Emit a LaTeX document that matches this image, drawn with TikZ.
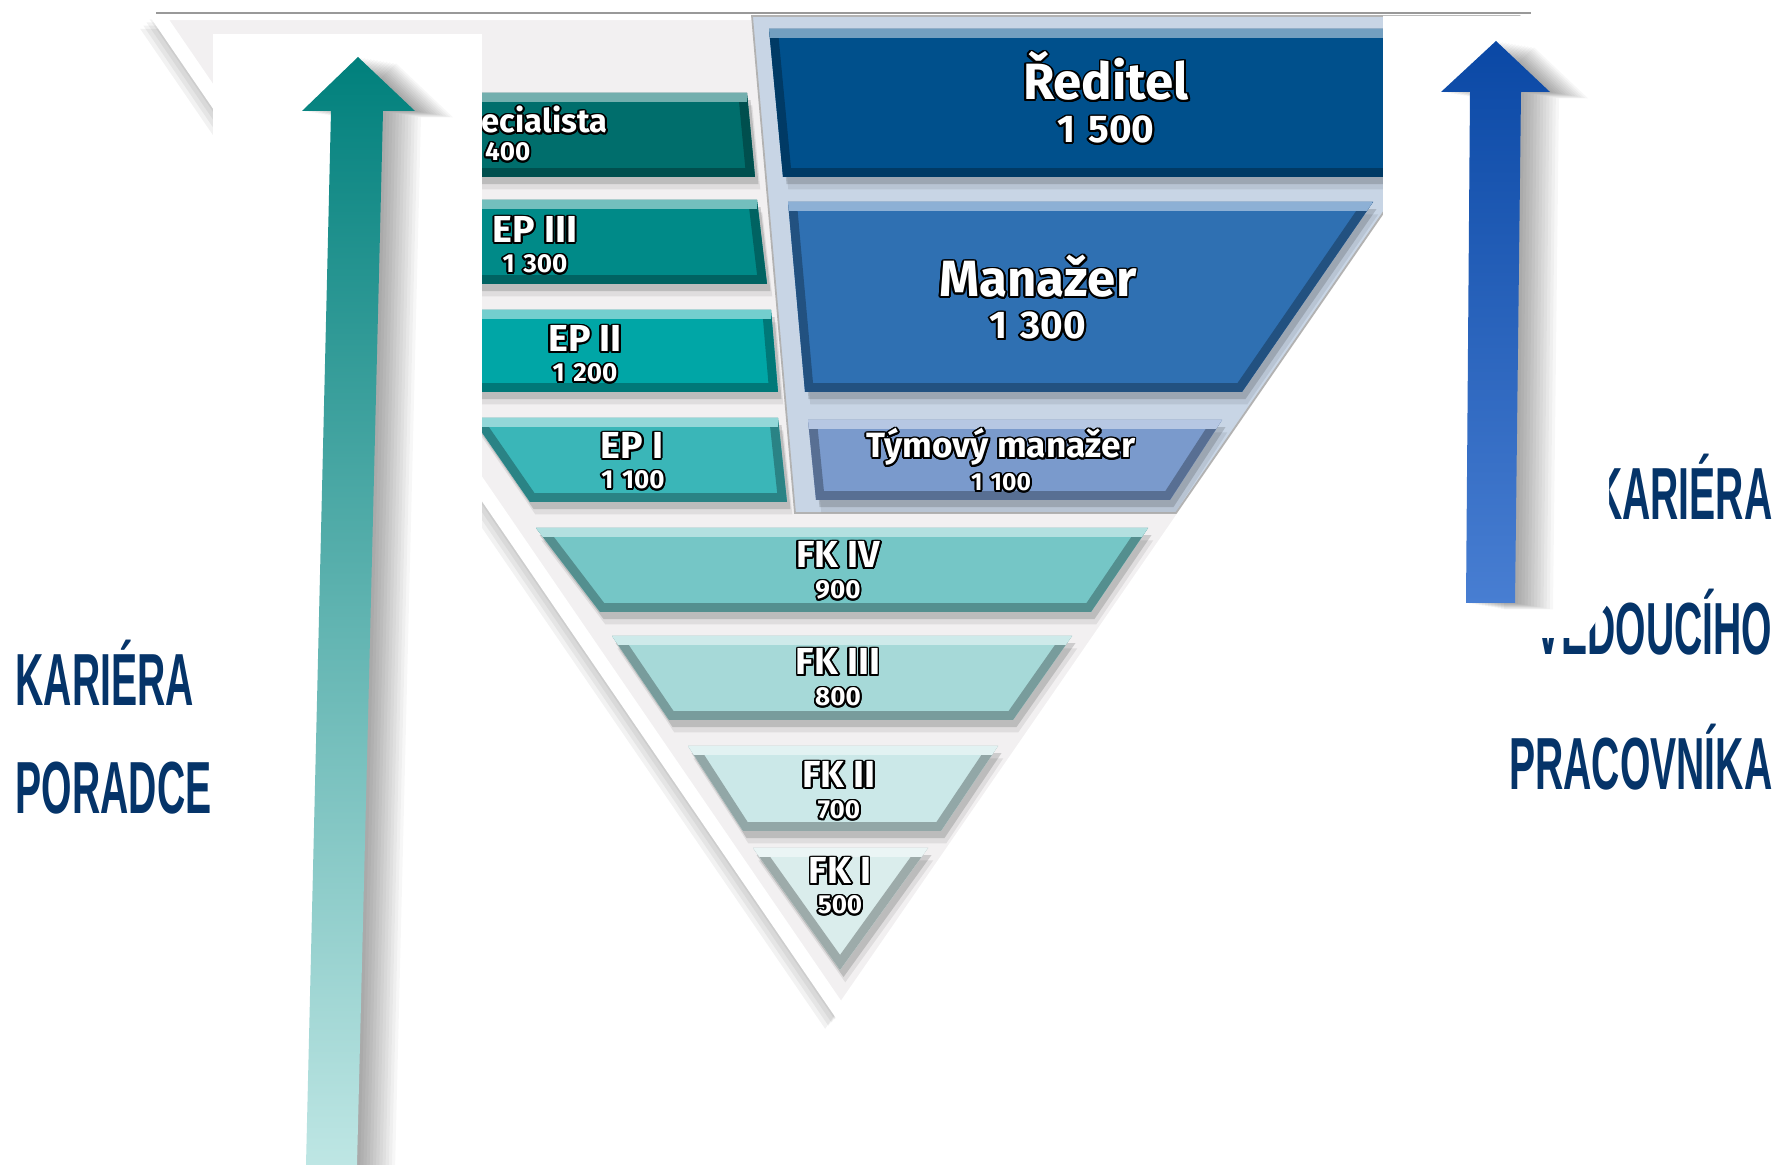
\documentclass[tikz,border=0pt]{standalone}
\usepackage{fontspec}
\usepackage{contour}
\newfontfamily\lblfont{Fira Sans}
\newfontfamily\sidefont{Liberation Sans}[FakeStretch=0.53]
\contourlength{0.55pt}
\definecolor{trifill}{RGB}{242,240,241}
\definecolor{blueback}{RGB}{200,213,229}
\definecolor{navy}{RGB}{5,52,105}
\definecolor{specc}{RGB}{0,110,108}
\definecolor{epthree}{RGB}{0,138,136}
\definecolor{eptwo}{RGB}{0,166,166}
\definecolor{epone}{RGB}{58,182,184}
\definecolor{redc}{RGB}{0,80,140}
\definecolor{manc}{RGB}{47,112,178}
\definecolor{tymc}{RGB}{122,154,204}
\definecolor{fkfour}{RGB}{117,198,198}
\definecolor{fkthree}{RGB}{166,217,216}
\definecolor{fktwo}{RGB}{203,232,232}
\definecolor{fkone}{RGB}{218,237,236}
\definecolor{tealtop}{RGB}{0,128,124}
\definecolor{tealmid}{RGB}{45,170,170}
\definecolor{tealbot}{RGB}{190,230,228}
\definecolor{bluetop}{RGB}{10,72,165}
\definecolor{bluebot}{RGB}{72,126,210}
% one bevelled step: colour, then corners tl tr br bl
\newcommand{\tier}[5]{%
  \fill[black,opacity=.15,xshift=1pt,yshift=-2pt] (#2) -- (#3) -- (#4) -- (#5) -- cycle;
  \fill[black,opacity=.08,xshift=1.5pt,yshift=-3.5pt] (#2) -- (#3) -- (#4) -- (#5) -- cycle;
  \fill[#1] (#2) -- (#3) -- (#4) -- (#5) -- cycle;
  \begin{scope}
    \clip (#2) -- (#3) -- (#4) -- (#5) -- cycle;
    \draw[#1!72!black,line width=5pt] (#2) -- (#3) -- (#4) -- (#5) -- cycle;
    \draw[#1!55!white,line width=5pt] (#2) -- (#3);
  \end{scope}}

\begin{document}
\begin{tikzpicture}[x=0.01cm,y=0.01cm]
	\tikzstyle{every node}+=[inner sep=0pt]
	\tikzstyle{tiername}=[text=white,anchor=base,font=\lblfont\bfseries\fontsize{10.7pt}{12pt}\selectfont]
	\tikzstyle{tiernum}=[text=white,anchor=base,font=\lblfont\bfseries\fontsize{7.4pt}{9pt}\selectfont]
	\tikzstyle{headname}=[text=white,anchor=base,font=\lblfont\bfseries\fontsize{14.5pt}{16pt}\selectfont]
	\tikzstyle{headnum}=[text=white,anchor=base,font=\lblfont\bfseries\fontsize{11pt}{13pt}\selectfont]
	\tikzstyle{sidetext}=[text=navy,font=\sidefont\bfseries\fontsize{21pt}{24pt}\selectfont]
	\useasboundingbox[fill=white] (0,0) rectangle (1778,-1165);
	\foreach \s in {1,...,5}
		\fill[black,opacity=.05,xshift={-\s*0.9pt},yshift={-\s*0.9pt}] (156,-13) -- (1531,-13) -- (841,-1013) -- cycle;
	\filldraw[fill=trifill,draw=white,line width=4pt] (156,-13) -- (1531,-13) -- (841,-1013) -- cycle;
	\draw[black!40,line width=0.7pt] (156,-13) -- (1531,-13);
	\filldraw[fill=blueback,draw=black!30,line width=0.5pt] (752,-16) -- (1519,-16) -- (1176,-513) -- (795,-513) -- cycle;
	\tier{specc}{440,-93}{747,-93}{755,-177}{440,-177}
	\tier{epthree}{440,-200}{757,-200}{767,-284}{440,-284}
	\tier{eptwo}{440,-310}{771,-310}{778,-392}{440,-392}
	\tier{epone}{472,-418}{778,-418}{787,-502}{530,-502}
	\tier{redc}{769,-29}{1400,-29}{1400,-177}{783,-177}
	\tier{manc}{788,-202}{1373,-202}{1242,-392}{805,-392}
	\tier{tymc}{808,-420}{1222,-420}{1170,-500}{816,-500}
	\tier{fkfour}{536,-528}{1148,-528}{1091,-612}{600,-612}
	\tier{fkthree}{612,-636}{1072,-636}{1013,-720}{669,-720}
	\tier{fktwo}{688,-746}{998,-746}{941,-831}{743,-831}
	\tier{fkone}{753,-848}{928,-848}{840,-970}{840,-970}
	\node[text=white,anchor=base east,font=\lblfont\bfseries\fontsize{9.3pt}{11pt}\selectfont] (spec) at (608,-133) {\contour{black}{Specialista}};
	\node[tiernum,anchor=base east] (specnum) at (531,-161) {\contour{black}{1\,\,400}};
	\node[tiername] (epiii) at (535,-243) {\contour{black}{EP III}};
	\node[tiernum] (epiiinum) at (535,-273) {\contour{black}{1\,\,300}};
	\node[tiername] (epii) at (585,-352) {\contour{black}{EP II}};
	\node[tiernum] (epiinum) at (585,-382) {\contour{black}{1\,\,200}};
	\node[tiername] (epi) at (632,-459) {\contour{black}{EP I}};
	\node[tiernum] (epinum) at (633,-489) {\contour{black}{1\,\,100}};
	\node[headname] (reditel) at (1106,-100) {\contour{black}{Ředitel}};
	\node[headnum] (reditelnum) at (1106,-143) {\contour{black}{1\,\,500}};
	\node[headname] (manazer) at (1038,-297) {\contour{black}{Manažer}};
	\node[headnum] (manazernum) at (1038,-339) {\contour{black}{1\,\,300}};
	\node[tiername,font=\lblfont\bfseries\fontsize{10pt}{12pt}\selectfont] (tymovy) at (1001,-458) {\contour{black}{Týmový manažer}};
	\node[tiernum,font=\lblfont\bfseries\fontsize{7pt}{9pt}\selectfont] (tymovynum) at (1001,-491) {\contour{black}{1\,\,100}};
	\node[tiername] (fkiv) at (838,-568) {\contour{black}{FK IV}};
	\node[tiernum] (fkivnum) at (838,-599) {\contour{black}{900}};
	\node[tiername] (fkiii) at (838,-675) {\contour{black}{FK III}};
	\node[tiernum] (fkiiinum) at (838,-706) {\contour{black}{800}};
	\node[tiername] (fkii) at (839,-788) {\contour{black}{FK II}};
	\node[tiernum] (fkiinum) at (839,-819) {\contour{black}{700}};
	\node[tiername] (fki) at (840,-884) {\contour{black}{FK I}};
	\node[tiernum] (fkinum) at (840,-914) {\contour{black}{500}};
	\fill[white] (213,-34) rectangle (482,-1165);
	\foreach \s in {1,...,12}
		\fill[black,opacity=.03,xshift={\s*0.9pt},yshift={-\s*0.15pt}] (358,-57) -- (415,-111) -- (383,-111) -- (357,-1165) -- (306,-1165) -- (331,-111) -- (302,-111) -- cycle;
	\shade[top color=tealtop,middle color=tealmid,bottom color=tealbot] (358,-57) -- (415,-111) -- (383,-111) -- (357,-1165) -- (306,-1165) -- (331,-111) -- (302,-111) -- cycle;
	\node[sidetext,anchor=base west] (kariera) at (15,-706) {KARIÉRA};
	\node[sidetext,anchor=base west] (poradce) at (15,-814) {PORADCE};
	\node[sidetext,anchor=base east] (karierab) at (1773,-520) {KARIÉRA};
	\node[sidetext,anchor=base east] (vedouciho) at (1773,-655) {VEDOUCÍHO};
	\node[sidetext,anchor=base east] (pracovnika) at (1773,-790) {PRACOVNÍKA};
	\fill[white] (1383,-16) -- (1609,-16) -- (1609,-602) -- (1585,-638) -- (1383,-638) -- cycle;
	\foreach \s in {1,...,12}
		\fill[black,opacity=.03,xshift={\s*0.9pt},yshift={-\s*0.15pt}] (1496,-41) -- (1550,-92) -- (1521,-92) -- (1515,-603) -- (1466,-603) -- (1470,-92) -- (1441,-92) -- cycle;
	\shade[top color=bluetop,bottom color=bluebot] (1496,-41) -- (1550,-92) -- (1521,-92) -- (1515,-603) -- (1466,-603) -- (1470,-92) -- (1441,-92) -- cycle;
\end{tikzpicture}
\end{document}
